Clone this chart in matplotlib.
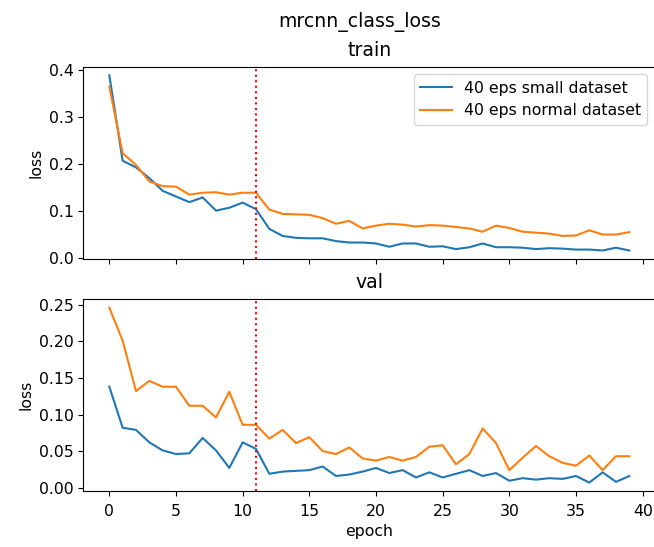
import matplotlib

matplotlib.use("Agg")

import matplotlib.pyplot as plt
import numpy as np

epochs = np.arange(40)

train_small = [
    0.388, 0.206, 0.192, 0.169, 0.142, 0.130, 0.118, 0.128, 0.100, 0.106,
    0.117, 0.103, 0.061, 0.046, 0.042, 0.041, 0.041, 0.035, 0.032, 0.032,
    0.030, 0.023, 0.030, 0.030, 0.023, 0.024, 0.018, 0.022, 0.030, 0.022,
    0.022, 0.021, 0.018, 0.020, 0.019, 0.017, 0.017, 0.015, 0.021, 0.015,
]
train_normal = [
    0.364, 0.222, 0.197, 0.162, 0.152, 0.151, 0.134, 0.138, 0.139, 0.134,
    0.138, 0.138, 0.102, 0.093, 0.092, 0.091, 0.084, 0.072, 0.078, 0.062,
    0.068, 0.072, 0.070, 0.066, 0.069, 0.068, 0.065, 0.062, 0.055, 0.068,
    0.063, 0.055, 0.053, 0.051, 0.046, 0.047, 0.058, 0.049, 0.049, 0.054,
]
val_small = [
    0.138, 0.082, 0.079, 0.062, 0.051, 0.046, 0.047, 0.068, 0.051, 0.027,
    0.062, 0.053, 0.019, 0.022, 0.023, 0.024, 0.029, 0.016, 0.018, 0.022,
    0.027, 0.020, 0.024, 0.014, 0.021, 0.014, 0.019, 0.024, 0.016, 0.020,
    0.0095, 0.013, 0.011, 0.013, 0.012, 0.016, 0.007, 0.021, 0.008, 0.016,
]
val_normal = [
    0.246, 0.201, 0.132, 0.146, 0.138, 0.138, 0.112, 0.112, 0.096, 0.131,
    0.086, 0.086, 0.067, 0.079, 0.061, 0.069, 0.050, 0.046, 0.055, 0.040,
    0.037, 0.042, 0.037, 0.042, 0.056, 0.058, 0.032, 0.046, 0.081, 0.061,
    0.024, 0.041, 0.057, 0.043, 0.034, 0.030, 0.044, 0.024, 0.043, 0.043,
]
series_labels = ["40 eps small dataset", "40 eps normal dataset"]
marker_epoch = 11

plt.rcParams["font.size"] = 11.3
plt.rcParams["axes.titlepad"] = 7.7

fig, (ax_train, ax_val) = plt.subplots(2, 1, sharex=True, figsize=(6.54, 5.47), dpi=100)
# axes extend a hair past the right edge of the canvas
ax_train.set_position([0.1274, 0.5260, 0.8746, 0.3524])
ax_val.set_position([0.1274, 0.1018, 0.8746, 0.3516])

for ax, small, normal, name in [
    (ax_train, train_small, train_normal, "train"),
    (ax_val, val_small, val_normal, "val"),
]:
    ax.plot(epochs, small, label=series_labels[0])
    ax.plot(epochs, normal, label=series_labels[1])
    ax.axvline(marker_epoch, color="red", linestyle=":")
    ax.set_title(name)
    ax.set_ylabel("loss")

ax_train.legend(loc="upper right")
ax_val.set_xlabel("epoch")
ax_val.set_xticks(range(0, 41, 5))
ax_val.tick_params(axis="x", pad=5.5)
fig.suptitle("mrcnn_class_loss", x=0.5505, y=0.9773)

fig.savefig("out.png", dpi=100)
